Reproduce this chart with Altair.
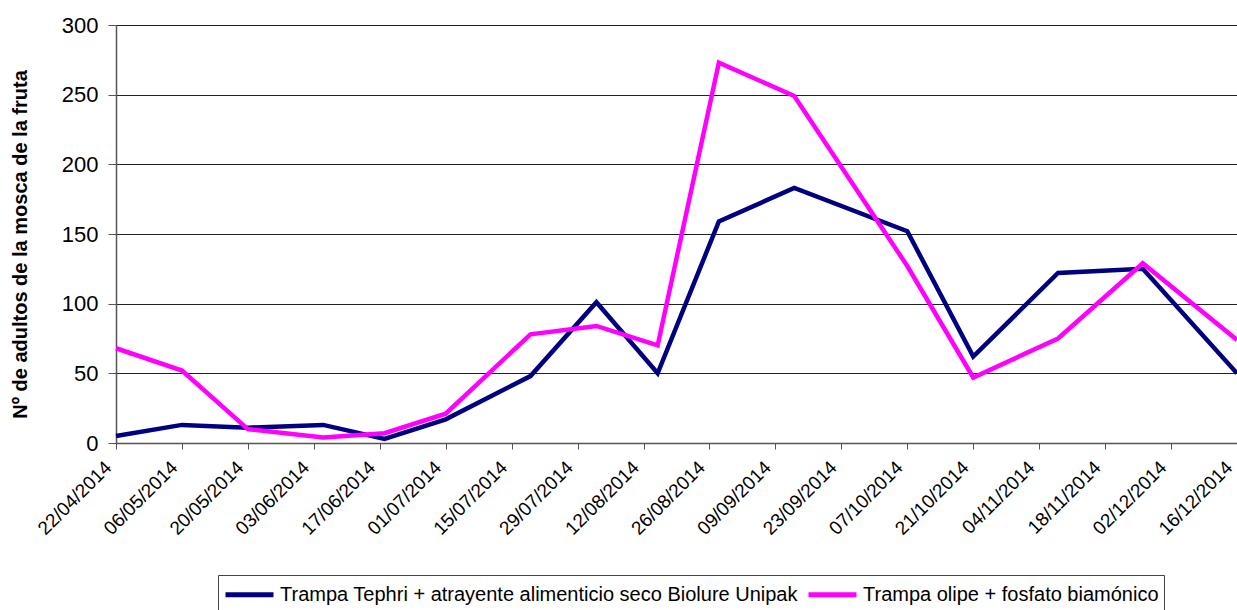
import altair as alt
import pandas as pd

# Sampling dates (2014)
dates = ["2014-04-22", "2014-05-06", "2014-05-20", "2014-06-05", "2014-06-18",
         "2014-07-01", "2014-07-19", "2014-08-02", "2014-08-15", "2014-08-28",
         "2014-09-13", "2014-10-07", "2014-10-21", "2014-11-08", "2014-11-26",
         "2014-12-16"]

series_names = ["Trampa Tephri + atrayente alimenticio seco Biolure Unipak",
                "Trampa olipe + fosfato biamónico"]
series_colors = ["#000080", "#FF00FF"]

tephri = [5, 13, 11, 13, 3, 17, 48, 101, 50, 159, 183, 152, 62, 122, 125, 50]
olipe = [68, 52, 10, 4, 7, 21, 78, 84, 70, 273, 249, 127, 47, 75, 129, 74]

tick_dates = ["2014-04-22", "2014-05-06", "2014-05-20", "2014-06-03", "2014-06-17",
              "2014-07-01", "2014-07-15", "2014-07-29", "2014-08-12", "2014-08-26",
              "2014-09-09", "2014-09-23", "2014-10-07", "2014-10-21", "2014-11-04",
              "2014-11-18", "2014-12-02", "2014-12-16"]
y_ticks = [0, 50, 100, 150, 200, 250, 300]

y_title = "Nº de adultos de la mosca de la fruta"


def dt(s):
    y, m, d = [int(v) for v in s.split("-")]
    return alt.DateTime(year=y, month=m, date=d, utc=True)


rows = []
for name, vals in zip(series_names, [tephri, olipe]):
    for d, v in zip(dates, vals):
        rows.append({"fecha": d, "valor": v, "serie": name})
df = pd.DataFrame(rows)

FONT = "Liberation Sans"

chart = alt.Chart(df).mark_line(strokeWidth=4.5, clip=False).encode(
    x=alt.X("fecha:T",
            scale=alt.Scale(type="utc", domain=[dt(tick_dates[0]), dt(tick_dates[-1])], nice=False),
            axis=alt.Axis(values=[dt(t) for t in tick_dates],
                          labelExpr="utcFormat(datum.value, '%d/%m/%Y')",
                          labelAngle=315, labelAlign="right", labelBaseline="middle",
                          labelPadding=15, labelOffset=-8, labelFontSize=19, labelFont=FONT,
                          labelColor="black", labelOverlap=False, labelBound=False,
                          tickSize=6, tickColor="#555555", domainColor="#555555",
                          domainWidth=1.5, grid=False, title=None)),
    y=alt.Y("valor:Q",
            scale=alt.Scale(domain=[0, 300], nice=False),
            axis=alt.Axis(values=y_ticks, labelFontSize=22, labelFont=FONT, labelColor="black",
                          labelPadding=10, tickSize=8, tickColor="#555555",
                          domainColor="#555555", domainWidth=1.5,
                          grid=True, gridColor="#222222", gridWidth=1,
                          title=y_title, titleFont=FONT, titleFontSize=20,
                          titleFontWeight="bold", titleColor="black", titlePadding=31,
                          titleY=219)),
    color=alt.Color("serie:N", sort=series_names,
                    scale=alt.Scale(domain=series_names, range=series_colors),
                    legend=alt.Legend(orient="none", legendX=102, legendY=550,
                                      direction="horizontal", title=None,
                                      symbolType="M-1,0H3", symbolSize=576,
                                      symbolStrokeWidth=5, labelFontSize=20,
                                      labelFont=FONT, labelColor="black", labelLimit=0,
                                      strokeColor="#444444", padding=5,
                                      columnPadding=0, labelOffset=28)),
).properties(
    width=1121, height=418,
    padding={"left": 116, "top": 25, "right": 0, "bottom": 167},
    autosize=alt.AutoSizeParams(type="none"),
).configure_view(stroke=None).configure(background="white")

chart.save("out.html", embed_options={"renderer": "svg", "actions": False})
